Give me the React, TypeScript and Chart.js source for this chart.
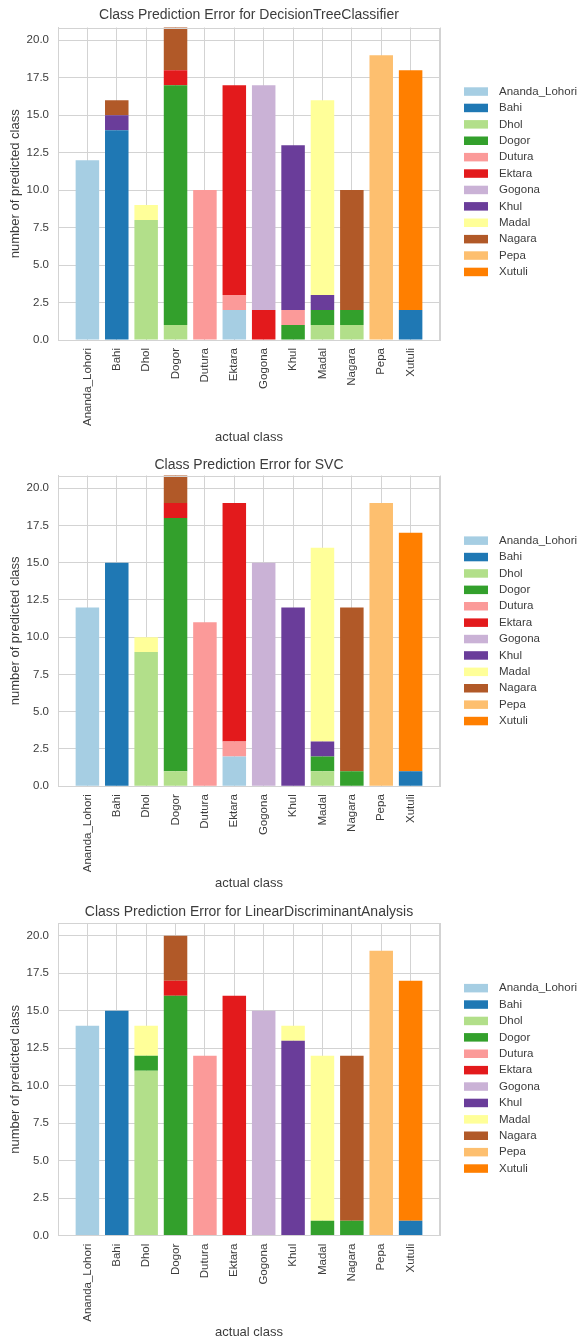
import React, { useEffect, useRef } from "react";
import { Chart, registerables } from "chart.js";

Chart.register(...registerables);

// Class names (actual and predicted share the same list) and their Paired colours
const classes = [
  "Ananda_Lohori", "Bahi", "Dhol", "Dogor", "Dutura", "Ektara",
  "Gogona", "Khul", "Madal", "Nagara", "Pepa", "Xutuli",
];
const classColors = [
  "#a6cee3", "#1f78b4", "#b2df8a", "#33a02c", "#fb9a99", "#e31a1c",
  "#cab2d6", "#6a3d9a", "#ffff99", "#b15928", "#fdbf6f", "#ff7f00",
];

// Rows: actual class, columns: predicted class (same order as `classes`)
const treeCounts: number[][] = [
  [12, 0, 0, 0, 0, 0, 0, 0, 0, 0, 0, 0],
  [0, 14, 0, 0, 0, 0, 0, 1, 0, 1, 0, 0],
  [0, 0, 8, 0, 0, 0, 0, 0, 1, 0, 0, 0],
  [0, 0, 1, 16, 0, 1, 0, 0, 0, 3, 0, 0],
  [0, 0, 0, 0, 10, 0, 0, 0, 0, 0, 0, 0],
  [2, 0, 0, 0, 1, 14, 0, 0, 0, 0, 0, 0],
  [0, 0, 0, 0, 0, 2, 15, 0, 0, 0, 0, 0],
  [0, 0, 0, 1, 1, 0, 0, 11, 0, 0, 0, 0],
  [0, 0, 1, 1, 0, 0, 0, 1, 13, 0, 0, 0],
  [0, 0, 1, 1, 0, 0, 0, 0, 0, 8, 0, 0],
  [0, 0, 0, 0, 0, 0, 0, 0, 0, 0, 19, 0],
  [0, 2, 0, 0, 0, 0, 0, 0, 0, 0, 0, 16],
];

const svcCounts: number[][] = [
  [12, 0, 0, 0, 0, 0, 0, 0, 0, 0, 0, 0],
  [0, 15, 0, 0, 0, 0, 0, 0, 0, 0, 0, 0],
  [0, 0, 9, 0, 0, 0, 0, 0, 1, 0, 0, 0],
  [0, 0, 1, 17, 0, 1, 0, 0, 0, 2, 0, 0],
  [0, 0, 0, 0, 11, 0, 0, 0, 0, 0, 0, 0],
  [2, 0, 0, 0, 1, 16, 0, 0, 0, 0, 0, 0],
  [0, 0, 0, 0, 0, 0, 15, 0, 0, 0, 0, 0],
  [0, 0, 0, 0, 0, 0, 0, 12, 0, 0, 0, 0],
  [0, 0, 1, 1, 0, 0, 0, 1, 13, 0, 0, 0],
  [0, 0, 0, 1, 0, 0, 0, 0, 0, 11, 0, 0],
  [0, 0, 0, 0, 0, 0, 0, 0, 0, 0, 19, 0],
  [0, 1, 0, 0, 0, 0, 0, 0, 0, 0, 0, 16],
];

const ldaCounts: number[][] = [
  [14, 0, 0, 0, 0, 0, 0, 0, 0, 0, 0, 0],
  [0, 15, 0, 0, 0, 0, 0, 0, 0, 0, 0, 0],
  [0, 0, 11, 1, 0, 0, 0, 0, 2, 0, 0, 0],
  [0, 0, 0, 16, 0, 1, 0, 0, 0, 3, 0, 0],
  [0, 0, 0, 0, 12, 0, 0, 0, 0, 0, 0, 0],
  [0, 0, 0, 0, 0, 16, 0, 0, 0, 0, 0, 0],
  [0, 0, 0, 0, 0, 0, 15, 0, 0, 0, 0, 0],
  [0, 0, 0, 0, 0, 0, 0, 13, 1, 0, 0, 0],
  [0, 0, 0, 1, 0, 0, 0, 0, 11, 0, 0, 0],
  [0, 0, 0, 1, 0, 0, 0, 0, 0, 11, 0, 0],
  [0, 0, 0, 0, 0, 0, 0, 0, 0, 0, 19, 0],
  [0, 1, 0, 0, 0, 0, 0, 0, 0, 0, 0, 16],
];

const modelTitles = [
  "Class Prediction Error for DecisionTreeClassifier",
  "Class Prediction Error for SVC",
  "Class Prediction Error for LinearDiscriminantAnalysis",
];
const modelCounts = [treeCounts, svcCounts, ldaCounts];

const FONT = '"Liberation Sans", Arial, Helvetica, sans-serif';
const TEXT = "#3c3c3c";
const GRID = "#d3d3d3";
const TITLE_SIZE = 14;

// Page placement of each panel: title centre, plot top/bottom, x-label centre
const panels = [
  { titleY: 15, top: 27.5, bottom: 340, xlabelY: 437, legendShift: -2 },
  { titleY: 464.5, top: 475, bottom: 785.7, xlabelY: 882, legendShift: 0 },
  { titleY: 912, top: 923, bottom: 1235.7, xlabelY: 1332, legendShift: -1 },
];

const WIDTH = 579;
const PLOT_LEFT = 58;
const PLOT_RIGHT = 440;

const frameAndLegend = {
  id: "frameAndLegend",
  afterDatasetsDraw(chart: any) {
    const { ctx, chartArea } = chart;
    ctx.save();
    ctx.strokeStyle = GRID;
    ctx.lineWidth = 1;
    ctx.strokeRect(
      Math.round(chartArea.left) + 0.5,
      Math.round(chartArea.top) + 0.5,
      Math.round(chartArea.right - chartArea.left) - 1,
      Math.round(chartArea.bottom - chartArea.top) - 1
    );
    ctx.restore();
  },
  afterDraw(chart: any, _args: any, opts: any) {
    const { ctx, chartArea } = chart;
    const datasets = chart.data.datasets;
    const n = datasets.length;
    const step = 16.4;
    const cy = (chartArea.top + chartArea.bottom) / 2 + (opts.shift || 0);
    ctx.save();
    ctx.font = `11.5px ${FONT}`;
    ctx.textBaseline = "middle";
    ctx.textAlign = "left";
    datasets.forEach((ds: any, i: number) => {
      const y = cy + (i - (n - 1) / 2) * step;
      ctx.fillStyle = ds.backgroundColor;
      ctx.fillRect(chartArea.right + 24, y - 4.25, 24, 8.5);
      ctx.fillStyle = TEXT;
      ctx.fillText(ds.label, chartArea.right + 59, y);
    });
    ctx.restore();
  },
};

function PredictionErrorPanel({ index }: { index: number }) {
  const ref = useRef<HTMLCanvasElement | null>(null);
  const p = panels[index];
  const canvasTop = p.titleY - 15;
  const height = Math.round(p.xlabelY + 9 - canvasTop);
  const areaTop = p.top - canvasTop;
  const areaBottom = p.bottom - canvasTop;

  useEffect(() => {
    const counts = modelCounts[index];
    // one empty slot on each side gives a full category of padding
    const labels = ["", ...classes, ""];
    const datasets = classes.map((name, k) => ({
      label: name,
      backgroundColor: classColors[k],
      borderWidth: 0,
      data: [null, ...counts.map((row) => (row[k] ? row[k] : null)), null],
    }));

    const titleLine = TITLE_SIZE * 1.2;
    const titlePadTop = 15 - titleLine / 2;

    const chart = new Chart(ref.current as HTMLCanvasElement, {
      type: "bar",
      data: { labels, datasets },
      plugins: [frameAndLegend],
      options: {
        animation: false,
        responsive: false,
        devicePixelRatio: 1,
        layout: { padding: { left: 0, right: WIDTH - PLOT_RIGHT, top: 0, bottom: 0 } },
        datasets: { bar: { categoryPercentage: 1, barPercentage: 0.8 } },
        plugins: {
          legend: { display: false },
          tooltip: { enabled: false },
          title: {
            display: true,
            text: modelTitles[index],
            fullSize: false,
            color: TEXT,
            font: { family: FONT, size: TITLE_SIZE, weight: "normal", lineHeight: 1.2 },
            padding: { top: titlePadTop, bottom: areaTop - titleLine - titlePadTop },
          },
          frameAndLegend: { shift: p.legendShift },
        } as any,
        scales: {
          x: {
            type: "category",
            stacked: true,
            offset: false,
            grid: { color: GRID, lineWidth: 1, drawTicks: false, offset: false },
            border: { color: GRID },
            ticks: {
              autoSkip: false,
              minRotation: 90,
              maxRotation: 90,
              padding: 8,
              color: TEXT,
              font: { family: FONT, size: 11.5 },
            },
            title: {
              display: true,
              text: "actual class",
              color: TEXT,
              font: { family: FONT, size: 13, lineHeight: 1.2 },
              padding: { top: 0, bottom: 1.2 },
            },
            afterFit: (scale: any) => {
              scale.height = height - areaBottom;
            },
          },
          y: {
            type: "linear",
            stacked: true,
            min: 0,
            max: 20.85,
            grid: { color: GRID, lineWidth: 1, drawTicks: false },
            border: { color: GRID },
            ticks: {
              stepSize: 2.5,
              includeBounds: false,
              padding: 9,
              color: TEXT,
              font: { family: FONT, size: 11.5 },
              callback: (v: any) => Number(v).toFixed(1),
            },
            title: {
              display: true,
              text: "number of predicted class",
              color: TEXT,
              font: { family: FONT, size: 13, lineHeight: 1.2 },
              padding: { top: 7.2, bottom: 0 },
            },
            afterFit: (scale: any) => {
              scale.width = PLOT_LEFT;
            },
          },
        },
      } as any,
    });
    return () => chart.destroy();
  }, [index]);

  return (
    <canvas
      ref={ref}
      width={WIDTH}
      height={height}
      style={{ position: "absolute", left: 0, top: canvasTop, width: WIDTH, height }}
    />
  );
}

export default function App() {
  return (
    <div style={{ position: "absolute", left: 0, top: 0, width: WIDTH, height: 1338, background: "#fff" }}>
      {panels.map((_, i) => (
        <PredictionErrorPanel key={i} index={i} />
      ))}
    </div>
  );
}
